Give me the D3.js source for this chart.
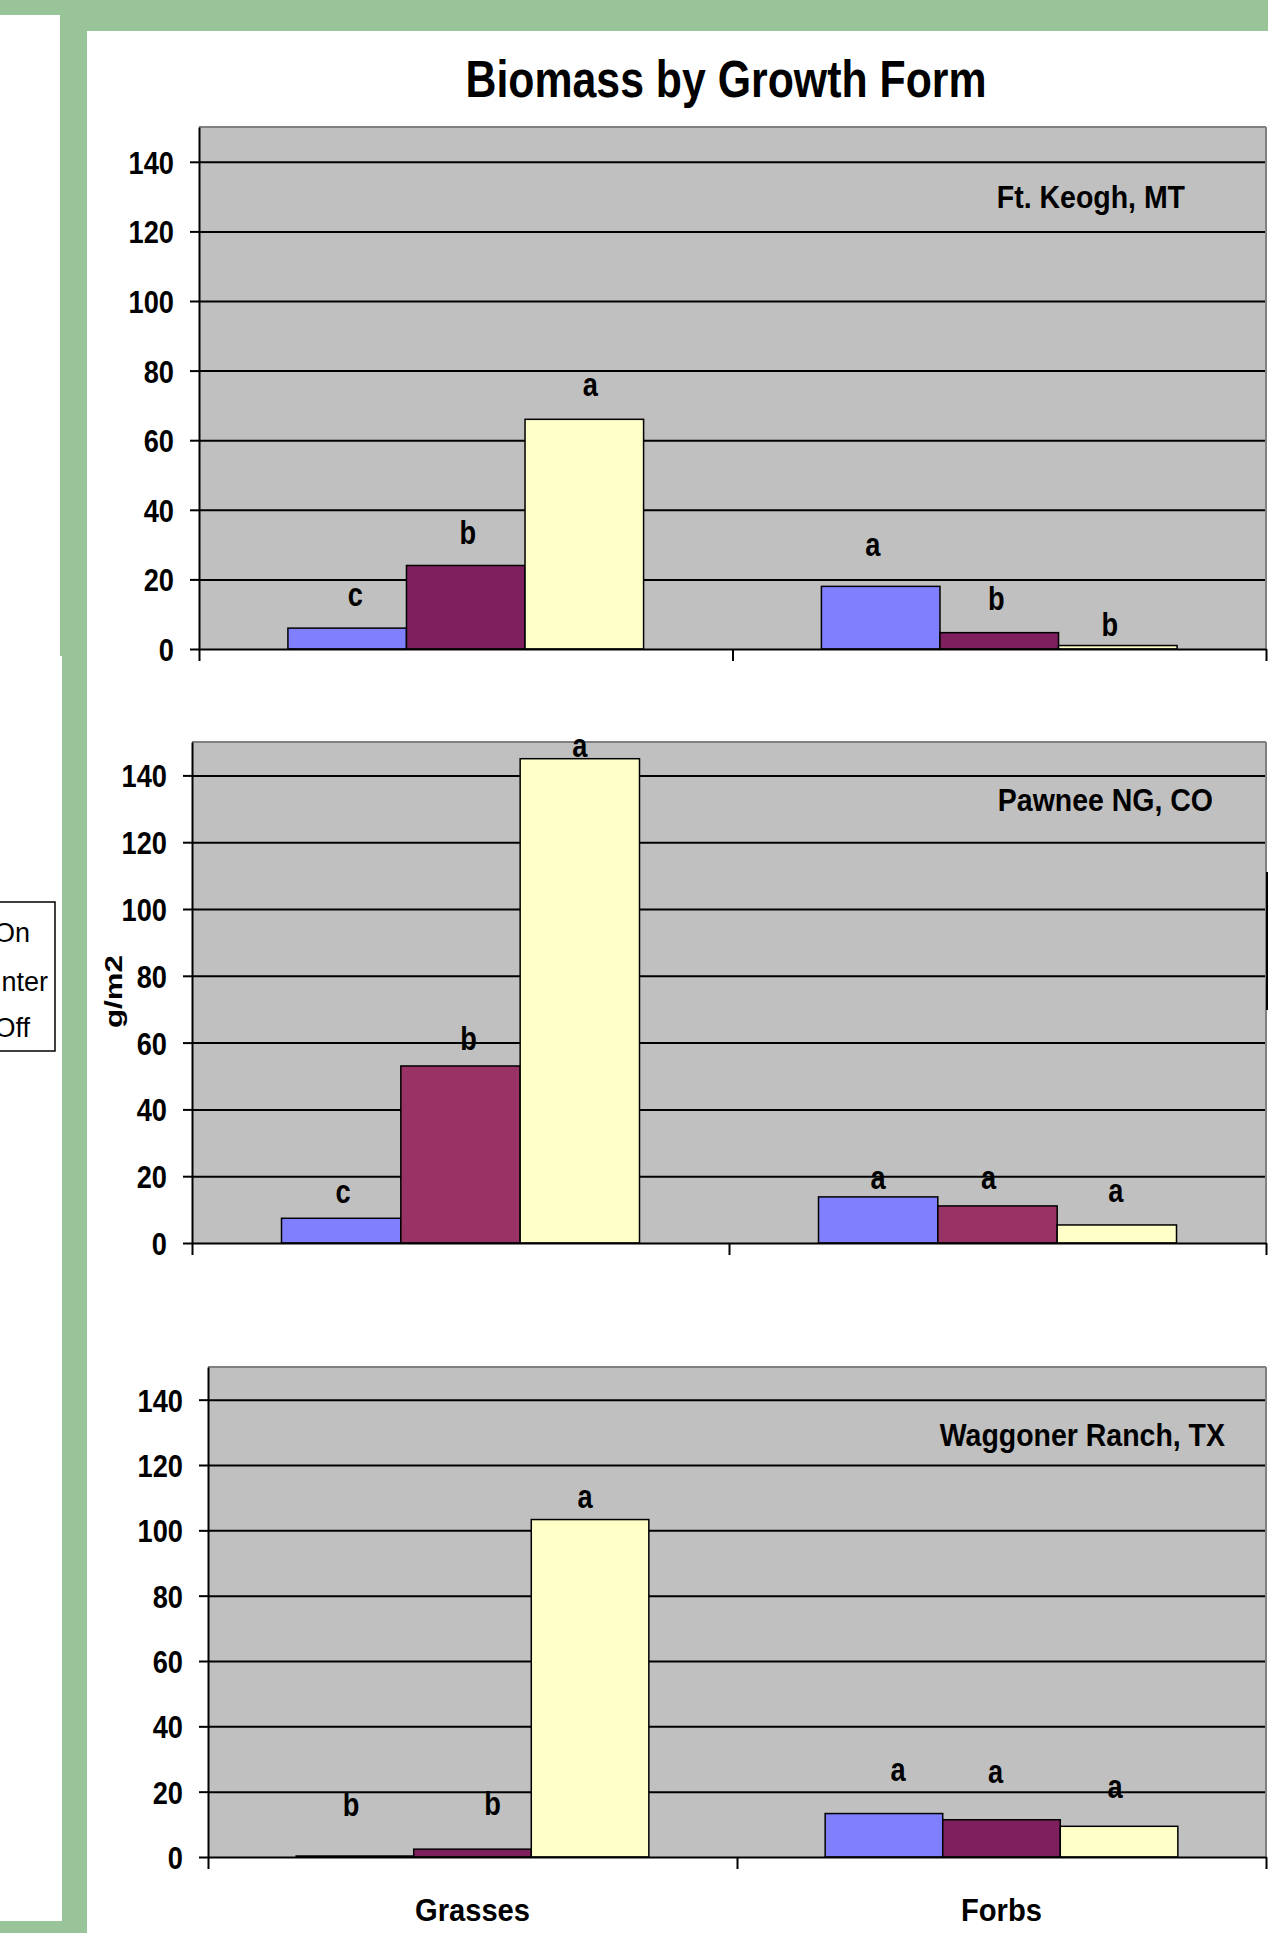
<!DOCTYPE html>
<html>
<head>
<meta charset="utf-8">
<script src="https://cdn.jsdelivr.net/npm/d3@7/dist/d3.min.js"></script>
<style>
  html, body { margin: 0; padding: 0; background: #fff; }
  svg { display: block; font-family: "Liberation Sans", Arial, sans-serif; }
</style>
</head>
<body>
<svg id="chart" width="1268" height="1933"></svg>
<script>
// ---- data ----
const sites = ["Ft. Keogh, MT", "Pawnee NG, CO", "Waggoner Ranch, TX"];
const growthForms = ["Grasses", "Forbs"];
const grazing = ["on", "winter", "off"];
const legendText = ["On", "nter", "Off"];
const yTicks = [0, 20, 40, 60, 80, 100, 120, 140];

// biomass (g/m2) per growth form, series order: on, winter, off
const keoghGrasses = [6, 24, 66];
const keoghForbs = [18, 4.7, 1];
const pawneeGrasses = [7.4, 53, 145];
const pawneeForbs = [13.8, 11.1, 5.4];
const waggonerGrasses = [0.3, 2.4, 103.3];
const waggonerForbs = [13.3, 11.4, 9.4];

// significance letters
const keoghLetters = [["c", "b", "a"], ["a", "b", "b"]];
const pawneeLetters = [["c", "b", "a"], ["a", "a", "a"]];
const waggonerLetters = [["b", "b", "a"], ["a", "a", "a"]];

const siteValues = [
  [keoghGrasses, keoghForbs],
  [pawneeGrasses, pawneeForbs],
  [waggonerGrasses, waggonerForbs]
];
const siteLetters = [keoghLetters, pawneeLetters, waggonerLetters];

// ---- layout & style ----
const green = "#99C499";
const blue = "#8080FF";
const yellow = "#FFFFC8";
const plotGrey = "#C0C0C0";

const panels = [
  { left: 199, right: 1266, top: 127, zero: 649, siteX: 1185, siteY: 208, purple: "#7E1F5E" },
  { left: 192, right: 1266, top: 742, zero: 1243, siteX: 1213, siteY: 811, purple: "#993366" },
  { left: 208, right: 1266, top: 1367, zero: 1857, siteX: 1225, siteY: 1446, purple: "#7E1F5E" }
];

// letter placement: [dx from bar centre, px of label centre above bar top]
const letterNudge = [
  [[[8, 31], [2, 33], [6, 32]], [[-8, 39], [-3, 35], [-8, 22]]],
  [[[2, 24], [8, 28], [0, 11]], [[0, 17], [-9, 26], [-1, 32]]],
  [[[-4, 52], [20, 46], [-5, 21]], [[14, 42], [-6, 46], [-4, 37]]]
];

const svg = d3.select("#chart");

// page frame
svg.append("rect").attr("x", 0).attr("y", 0).attr("width", 1268).attr("height", 1933).attr("fill", green);
svg.append("rect").attr("x", 0).attr("y", 15).attr("width", 60).attr("height", 641).attr("fill", "#fff");
svg.append("rect").attr("x", 0).attr("y", 656).attr("width", 62).attr("height", 1265).attr("fill", "#fff");
svg.append("rect").attr("x", 87).attr("y", 31).attr("width", 1181).attr("height", 1902).attr("fill", "#fff");

// helper for bold, horizontally condensed text
function txt(parent, x, y, s, opt) {
  const o = Object.assign({ size: 30, weight: "bold", sx: 1, anchor: "middle" }, opt || {});
  return parent.append("text")
    .attr("transform", `translate(${x},${y}) scale(${o.sx},1)`)
    .attr("text-anchor", o.anchor)
    .attr("font-size", o.size)
    .attr("font-weight", o.weight)
    .attr("fill", "#000")
    .text(s);
}

// title
txt(svg, 726, 97, "Biomass by Growth Form", { size: 51, sx: 0.84 });

// legend fragment at the left edge
const legend = svg.append("g");
legend.append("rect").attr("x", -10).attr("y", 902).attr("width", 65).attr("height", 149)
  .attr("fill", "#fff").attr("stroke", "#000").attr("stroke-width", 1.5);
const legendRight = [30, 48, 30];
const legendMid = [933, 982, 1028];
legendText.forEach((t, i) => {
  txt(legend, legendRight[i], legendMid[i] + 9, t, { size: 27, weight: "normal", sx: 1.0, anchor: "end" });
});

// y-axis title
svg.append("text")
  .attr("transform", "translate(122,991.5) rotate(-90)")
  .attr("text-anchor", "middle")
  .attr("font-size", 24)
  .attr("font-weight", "bold")
  .attr("textLength", 73)
  .attr("lengthAdjust", "spacingAndGlyphs")
  .text("g/m2");

panels.forEach((p, pi) => {
  const g = svg.append("g");
  const y = d3.scaleLinear().domain([0, 150]).range([p.zero, p.top]);
  const xCat = d3.scaleBand().domain(growthForms).range([p.left, p.right]).padding(0);
  const xSeries = d3.scaleBand().domain(grazing).range([0, xCat.bandwidth()])
    .paddingInner(0).paddingOuter(0.75);
  const fills = [blue, p.purple, yellow];

  // plot area
  g.append("rect").attr("x", p.left).attr("y", p.top)
    .attr("width", p.right - p.left).attr("height", p.zero - p.top).attr("fill", plotGrey);

  // gridlines
  const grid = g.append("g").attr("transform", `translate(${p.left},0)`)
    .call(d3.axisLeft(y).tickValues(yTicks.slice(1)).tickSize(-(p.right - p.left)).tickFormat(""));
  grid.select(".domain").remove();
  grid.selectAll("line").attr("stroke", "#000").attr("stroke-width", 2);

  // plot border (top and right)
  g.append("line").attr("x1", p.left).attr("x2", p.right).attr("y1", p.top).attr("y2", p.top)
    .attr("stroke", "#808080").attr("stroke-width", 2);
  g.append("line").attr("x1", p.right).attr("x2", p.right).attr("y1", p.top).attr("y2", p.zero)
    .attr("stroke", "#808080").attr("stroke-width", 2);

  // bars
  growthForms.forEach((form, ci) => {
    const vals = siteValues[pi][ci];
    const grp = g.append("g").attr("transform", `translate(${xCat(form)},0)`);
    grp.selectAll("rect").data(vals).join("rect")
      .attr("x", (d, i) => xSeries(grazing[i]))
      .attr("y", d => y(d))
      .attr("width", xSeries.bandwidth())
      .attr("height", d => y(0) - y(d))
      .attr("fill", (d, i) => fills[i])
      .attr("stroke", "#000")
      .attr("stroke-width", 1.5);

    // significance letters
    vals.forEach((v, si) => {
      const letter = siteLetters[pi][ci][si];
      const [dx, above] = letterNudge[pi][ci][si];
      const cx = xCat(form) + xSeries(grazing[si]) + xSeries.bandwidth() / 2 + dx;
      const cy = y(v) - above;
      txt(g, cx, cy + (letter === "b" ? 12 : 9), letter, { size: 34, sx: 0.8 });
    });
  });

  // y axis
  const yAxis = g.append("g").attr("transform", `translate(${p.left},0)`)
    .call(d3.axisLeft(y).tickValues(yTicks).tickSize(9).tickSizeOuter(0).tickFormat(d3.format("d")));
  yAxis.select(".domain").attr("stroke", "#000").attr("stroke-width", 2);
  yAxis.selectAll(".tick line").attr("stroke", "#000").attr("stroke-width", 2);
  yAxis.selectAll(".tick text")
    .attr("x", null).attr("dy", "0.36em")
    .attr("transform", "translate(-25,0) scale(0.85,1)")
    .attr("text-anchor", "end")
    .attr("font-size", 32).attr("font-weight", "bold").attr("fill", "#000")
    .attr("font-family", "'Liberation Sans', Arial, sans-serif");

  // x axis with category boundary ticks
  const xEdge = d3.scaleLinear().domain([0, growthForms.length]).range([p.left, p.right]);
  const xAxis = g.append("g").attr("transform", `translate(0,${p.zero})`)
    .call(d3.axisBottom(xEdge).tickValues(d3.range(growthForms.length + 1)).tickSize(12).tickSizeOuter(0).tickFormat(""));
  xAxis.select(".domain").attr("stroke", "#000").attr("stroke-width", 2);
  xAxis.selectAll(".tick line").attr("stroke", "#000").attr("stroke-width", 2);

  // site name
  txt(g, p.siteX, p.siteY, sites[pi], { size: 32, sx: 0.89, anchor: "end" });

  // category names under the bottom panel
  if (pi === panels.length - 1) {
    growthForms.forEach(form => {
      txt(g, xCat(form) + xCat.bandwidth() / 2, 1921, form, { size: 31, sx: 0.94 });
    });
  }
});

// edge of a neighbouring object at the right of the middle panel
svg.append("line").attr("x1", 1267).attr("x2", 1267).attr("y1", 872).attr("y2", 1010)
  .attr("stroke", "#000").attr("stroke-width", 2);
</script>
</body>
</html>
